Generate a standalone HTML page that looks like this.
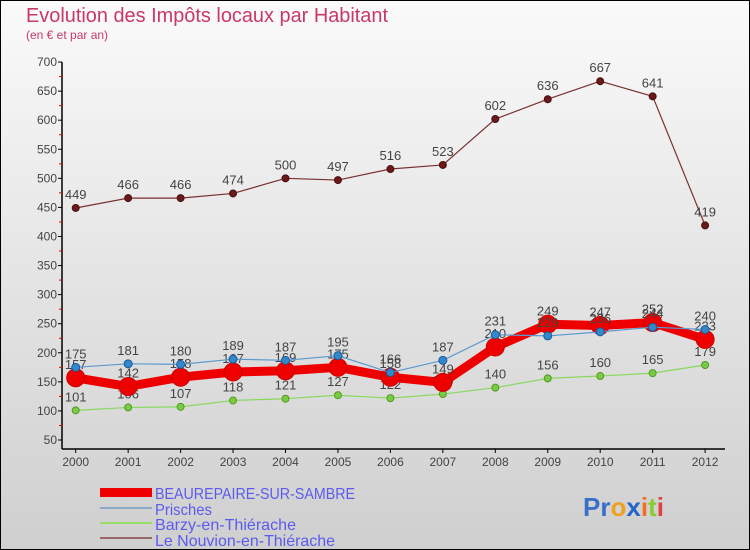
<!DOCTYPE html>
<html><head><meta charset="utf-8"><style>
body{margin:0}
svg{display:block;font-family:"Liberation Sans",sans-serif}
</style></head><body>
<svg width="750" height="550" xmlns="http://www.w3.org/2000/svg">
<defs><linearGradient id="bg" x1="0" y1="0" x2="0" y2="1"><stop offset="0" stop-color="#fafafa"/><stop offset="1" stop-color="#cfcfcf"/></linearGradient></defs>
<rect x="0.5" y="0.5" width="749" height="549" fill="url(#bg)" stroke="#000"/>
<text x="26" y="22" font-size="20" fill="#c8386a" textLength="362" lengthAdjust="spacingAndGlyphs">Evolution des Impôts locaux par Habitant</text>
<text x="26" y="39" font-size="12" fill="#c8386a">(en € et par an)</text>
<g id="axes"></g>
<g id="series"></g>
<g font-size="16" fill="#5b5bee">
<rect x="100" y="488" width="52" height="9" fill="#e00"/>
<text x="155" y="499" textLength="200" lengthAdjust="spacingAndGlyphs">BEAUREPAIRE-SUR-SAMBRE</text>
<rect x="100" y="507" width="52" height="2" fill="#8aaac8"/>
<text x="155" y="515" textLength="57" lengthAdjust="spacingAndGlyphs">Prisches</text>
<rect x="100" y="522" width="52" height="2" fill="#99dd66"/>
<text x="155" y="530" textLength="141" lengthAdjust="spacingAndGlyphs">Barzy-en-Thiérache</text>
<rect x="100" y="537" width="52" height="2" fill="#9a6a6a"/>
<text x="155" y="546" textLength="180" lengthAdjust="spacingAndGlyphs">Le Nouvion-en-Thiérache</text>
</g>
<text x="583" y="516" font-size="26" font-weight="bold"><tspan fill="#3a6fc8">Pr</tspan><tspan fill="#f0a020">o</tspan><tspan fill="#2266cc">x</tspan><tspan fill="#f07020">i</tspan><tspan fill="#88cc33">t</tspan><tspan fill="#e04040">i</tspan></text>
</svg>
<script>
const years=[2000,2001,2002,2003,2004,2005,2006,2007,2008,2009,2010,2011,2012];
const yTicks=[50,100,150,200,250,300,350,400,450,500,550,600,650,700];
const beaurepaire=[157,142,158,167,169,175,158,149,210,249,247,252,223];
const prisches=[175,181,180,189,187,195,166,187,231,229,236,244,240];
const barzy=[101,106,107,118,121,127,122,129,140,156,160,165,179];
const nouvion=[449,466,466,474,500,497,516,523,602,636,667,641,419];
const NS='http://www.w3.org/2000/svg';
const X=i=>75.7+i*52.45;
const Y=v=>440-(v-50)*0.5815;
function mk(tag,attrs,parent){const e=document.createElementNS(NS,tag);for(const k in attrs)e.setAttribute(k,attrs[k]);parent.appendChild(e);return e;}
const ax=document.getElementById('axes');
let e=mk('line',{x1:62,y1:Y(700),x2:62,y2:449,stroke:'#000','stroke-width':1.5},ax);


e=mk('line',{x1:62,y1:449,x2:725,y2:449,stroke:'#000','stroke-width':1.5},ax);


yTicks.forEach((v,i)=>{
  mk('line',{x1:58,y1:Y(v),x2:62,y2:Y(v),stroke:'#000'},ax);
  if(i<yTicks.length-1)mk('line',{x1:59,y1:Y(v+25),x2:62,y2:Y(v+25),stroke:'#e00'},ax);
  const t=mk('text',{x:57,y:Y(v)+4,'font-size':12,fill:'#444','text-anchor':'end'},ax);
  t.textContent=v;
  
  
});
years.forEach((yr,i)=>{
  mk('line',{x1:X(i),y1:449,x2:X(i),y2:453,stroke:'#000'},ax);
  const t=mk('text',{x:X(i),y:466,'font-size':12,fill:'#444','text-anchor':'middle'},ax);
  t.textContent=yr;
  
  
});
const sg=document.getElementById('series');
function draw(vals,name,color,lw,r,dot,dotStroke){
  const g=mk('g',{},sg);
  
  
  const p=mk('polyline',{points:vals.map((v,i)=>X(i)+','+Y(v)).join(' '),fill:'none',stroke:color,'stroke-width':lw,'stroke-linejoin':'round'},g);
  
  
  vals.forEach((v,i)=>{
    const c=mk('circle',{cx:X(i),cy:Y(v),r:r,fill:dot,stroke:dotStroke,'stroke-width':1},g);
    
    
    const t=mk('text',{x:X(i),y:Y(v)-9,'font-size':13,fill:'#444','text-anchor':'middle'},g);
    t.textContent=v;
    
    
  });
}
draw(nouvion,'nouvion','#7a3030',1.2,3.5,'#6a1a1a','#4a1010');
draw(barzy,'barzy','#88d860',1.2,3.5,'#77cc44','#559922');
draw(beaurepaire,'beaurepaire','#ee0000',9,9,'#ee0000','#c00');
draw(prisches,'prisches','#5a9ad0',1.2,4,'#3388cc','#1a5a99');
</script>
</body></html>
